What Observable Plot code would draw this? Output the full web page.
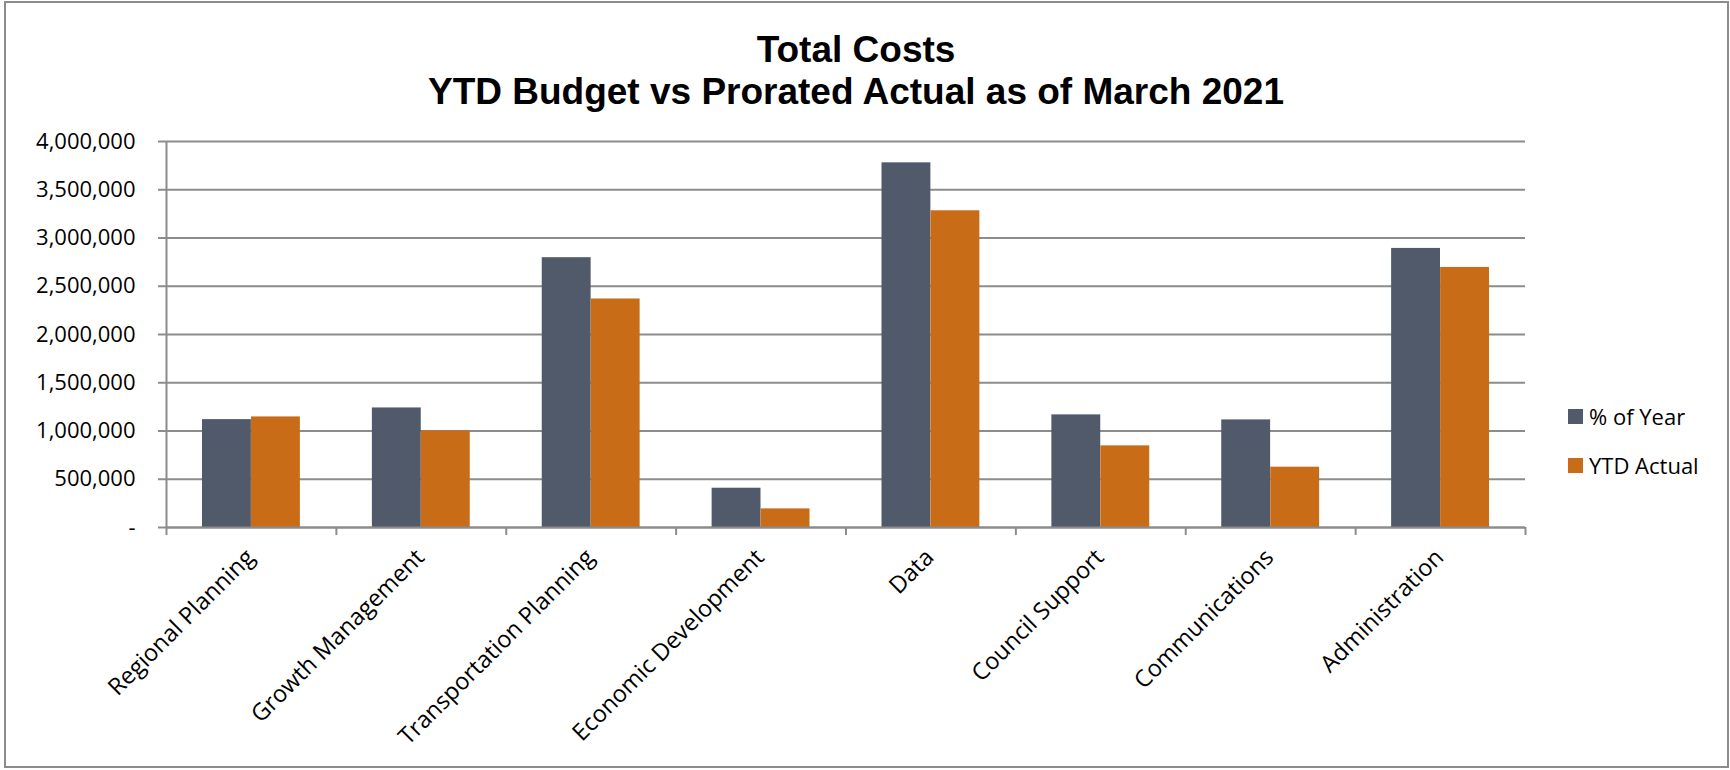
<!DOCTYPE html>
<html>
<head>
<meta charset="utf-8">
<script src="https://cdn.jsdelivr.net/npm/d3@7"></script>
<script src="https://cdn.jsdelivr.net/npm/@observablehq/plot@0.6"></script>
<style>
  html, body { margin: 0; padding: 0; background: #fff; }
  #wrap { position: relative; width: 1730px; height: 770px; overflow: hidden; background: #fff; }
  #frame { position: absolute; left: 4px; top: 1px; width: 1725px; height: 767px; box-sizing: border-box; border: 2px solid #8c8c8c; pointer-events: none; }
  #title { position: absolute; left: 0; top: 29px; width: 1712px; text-align: center; font-family: "Liberation Sans", Arial, sans-serif; font-weight: bold; font-size: 37px; line-height: 42px; color: #000; }
  #chart { position: absolute; left: 0; top: 110px; }
  #legend { position: absolute; left: 1568px; top: 0; font-family: "Open Sans", sans-serif; font-size: 22px; color: #000; }
  .item { position: absolute; left: 0; display: flex; align-items: center; white-space: nowrap; }
  .sw { width: 15px; height: 15px; margin-right: 6px; flex: none; }
</style>
</head>
<body>
<div id="wrap">
  <div id="title"><div>Total Costs</div><div>YTD Budget vs Prorated Actual as of March 2021</div></div>
  <div id="chart"></div>
  <div id="legend"></div>
  <div id="frame"></div>
</div>
<script>
const categories = ["Regional Planning", "Growth Management", "Transportation Planning", "Economic Development", "Data", "Council Support", "Communications", "Administration"];
const pctOfYear = [1118000, 1239000, 2796000, 407000, 3779000, 1167000, 1115000, 2892000];
const ytdActual = [1146000, 1001000, 2368000, 193000, 3282000, 846000, 625000, 2695000];
const seriesNames = ["% of Year", "YTD Actual"];
const seriesColors = ["#505a6b", "#c96c18"];
const yTicks = [0, 500000, 1000000, 1500000, 2000000, 2500000, 3000000, 3500000, 4000000];

const rows = categories.map((c, i) => ({i, category: c, pct: pctOfYear[i], ytd: ytdActual[i]}));
const boundaries = d3.range(categories.length + 1);
const fmt = d => d === 0 ? "-" : d3.format(",")(d);
const gridColor = "#8c8c8c";

const chart = Plot.plot({
  width: 1730,
  height: 660,
  marginLeft: 166,
  marginRight: 205,
  marginTop: 31,
  marginBottom: 243,
  x: {type: "linear", domain: [0, categories.length]},
  y: {domain: [0, 4000000]},
  style: {fontFamily: "Open Sans, sans-serif", fontSize: "22px", color: "#000", background: "transparent"},
  marks: [
    Plot.ruleY(yTicks, {stroke: gridColor, strokeWidth: 2}),
    Plot.rectY(rows, {x1: "i", x2: d => d.i + 1, y1: 0, y2: "pct", fill: seriesColors[0], insetLeft: 36, insetRight: 85}),
    Plot.rectY(rows, {x1: "i", x2: d => d.i + 1, y1: 0, y2: "ytd", fill: seriesColors[1], insetLeft: 85, insetRight: 36}),
    Plot.axisY(yTicks, {tickSize: 8, tickPadding: 23, tickFormat: fmt, stroke: gridColor, strokeWidth: 2, label: null, fontSize: 22}),
    Plot.ruleX([0], {stroke: gridColor, strokeWidth: 2}),
    Plot.axisX(boundaries, {tickSize: 8, tickFormat: () => "", stroke: gridColor, strokeWidth: 2, label: null}),
    Plot.ruleY([0], {stroke: gridColor, strokeWidth: 2}),
    Plot.text(rows, {x: d => d.i + 0.5, y: 0, text: "category", rotate: -45, textAnchor: "end", dx: -1, dy: 26, fontSize: 23.5, fill: "#000"})
  ]
});
document.getElementById("chart").appendChild(chart);

const legend = document.getElementById("legend");
const legendTops = [416, 465];
seriesNames.forEach((name, k) => {
  const item = document.createElement("div");
  item.className = "item";
  item.style.top = (legendTops[k] - 16) + "px";
  item.style.height = "32px";
  const sw = document.createElement("span");
  sw.className = "sw";
  sw.style.background = seriesColors[k];
  const label = document.createElement("span");
  label.textContent = name;
  item.appendChild(sw);
  item.appendChild(label);
  legend.appendChild(item);
});
</script>
</body>
</html>
